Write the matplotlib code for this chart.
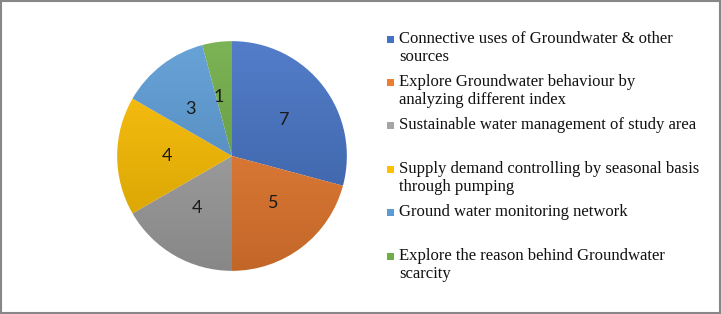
import numpy as np
import matplotlib.pyplot as plt
from matplotlib.colors import to_rgb
from matplotlib.patches import Rectangle

# data
categories = [
    "Connective uses of Groundwater & other\nsources",
    "Explore Groundwater behaviour by\nanalyzing different index",
    "Sustainable water management of study area",
    "Supply demand controlling by seasonal basis\nthrough pumping",
    "Ground water monitoring network",
    "Explore the reason behind Groundwater\nscarcity",
]
values = [7, 5, 4, 4, 3, 1]
colors = ["#4472C4", "#ED7D31", "#A5A5A5", "#FFC000", "#5B9BD5", "#70AD47"]

W, H = 721, 314
fig = plt.figure(figsize=(W / 100, H / 100), dpi=100)

# pie axes: centre (232,156) px, radius 116 px
cx, cy, r = 232, 156, 116
ax = fig.add_axes([(cx - r) / W, (H - cy - r) / H, 2 * r / W, 2 * r / H])
wedges, texts = ax.pie(values, startangle=90, counterclock=False, radius=1,
                       labels=[str(v) for v in values], labeldistance=0.52,
                       wedgeprops=dict(linewidth=0, edgecolor="none"),
                       textprops=dict(fontsize=13, family="Lato", color="#1a1a1a"))
ax.set_aspect("equal")
ax.axis("off")

# vertical gradient fill, lighter on top like the office style
grad_t = np.linspace(0, 1, 256)[:, None]
for w, c in zip(wedges, colors):
    base = np.array(to_rgb(c))
    top = base * 0.92 + 0.08
    bot = base * 0.82
    img = top[None, None, :] * (1 - grad_t[..., None]) + bot[None, None, :] * grad_t[..., None]
    img = np.repeat(img, 2, axis=1)
    w.set_facecolor("none")
    im = ax.imshow(img, extent=[-1, 1, -1, 1], origin="upper", zorder=0.5,
                   interpolation="bilinear", aspect="auto")
    im.set_clip_path(w)
ax.set_xlim(-1.01, 1.01)
ax.set_ylim(-1.01, 1.01)

# legend drawn as fixed slots
slot_y = [39, 82, 125, 169, 212, 256]
for lab, c, y in zip(categories, colors, slot_y):
    fig.patches.append(Rectangle((387 / W, 1 - (y + 3.5) / H), 7 / W, 7 / H,
                                 transform=fig.transFigure, facecolor=c, edgecolor="none"))
    fig.text(399 / W, 1 - (y - 8) / H, lab, ha="left", va="top", fontsize=12,
             family="Liberation Serif", color="#111111", linespacing=1.18)

# outer border
fig.patches.append(Rectangle((0.5 / W, 0.8 / H), 1 - 1.6 / W, 1 - 1.4 / H,
                             transform=fig.transFigure, facecolor="none",
                             edgecolor="#878787", linewidth=1.5))

fig.savefig("out.png", dpi=100)
